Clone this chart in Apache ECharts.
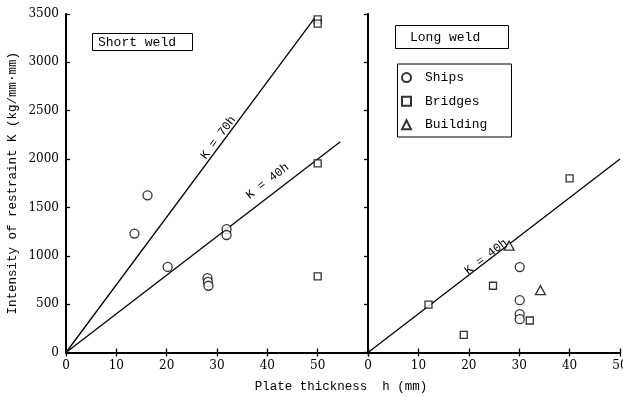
<!DOCTYPE html>
<html>
<head>
<meta charset="utf-8">
<script src="https://cdn.jsdelivr.net/npm/echarts@6/dist/echarts.min.js"></script>
<style>
  html, body { margin: 0; padding: 0; background: #fff; }
  #chart { width: 623px; height: 397px; }
</style>
</head>
<body>
<div id="chart"></div>
<script>
// Restraint intensity K against plate thickness h, short and long welds.
const xTicksShort = [0, 10, 20, 30, 40, 50];
const xTicksLong = [0, 10, 20, 30, 40, 50];
const yTicks = [0, 500, 1000, 1500, 2000, 2500, 3000, 3500];

// Short weld (left panel)
const shortShips = [[13.6, 1230], [16.2, 1625], [20.2, 885], [28.1, 770], [28.2, 730], [28.3, 690], [31.9, 1275], [31.9, 1215]];
const shortBridges = [[50, 3445], [50, 3400], [50, 1955], [50, 787]];

// Long weld (right panel)
const longShips = [[30.1, 883], [30.1, 541], [30.1, 396], [30.1, 345]];
const longBridges = [[12, 495], [19, 182], [24.8, 690], [32.1, 331], [40, 1801]];
const longBuilding = [[28, 1104], [34.2, 645]];

// Reference lines K = c·h : slope and end thickness
const shortLineSlopes = [70, 40];
const shortLineEnds = [49.5, 54.5];
const longLineSlopes = [40];
const longLineEnds = [50];

const MONO = '"Liberation Mono", "DejaVu Sans Mono", monospace';
const SERIF = '"DejaVu Serif", "Liberation Serif", serif';

const chart = echarts.init(document.getElementById('chart'), null, { renderer: 'canvas' });

const markerStyle = { color: '#fff', borderColor: '#000', borderWidth: 1.3 };

function lineData(slope, end) { return [[0, 0], [end, slope * end]]; }

function bottomAxis(grid, max, ticks) {
  return {
    type: 'value', gridIndex: grid, position: 'bottom', min: 0, max: max, interval: 10,
    axisLine: { show: true, lineStyle: { color: '#000', width: 2 } },
    axisTick: { show: true, inside: true, length: 4, lineStyle: { color: '#000', width: 1.3 } },
    axisLabel: {
      show: true, margin: 7, color: '#000', fontFamily: SERIF, fontSize: 12,
      hideOverlap: false,
      formatter: v => ticks.indexOf(v) >= 0 ? String(v) : ''
    },
    splitLine: { show: false }
  };
}
function topAxis(grid, max) {
  return {
    type: 'value', gridIndex: grid, position: 'top', min: 0, max: max, interval: 10,
    axisLine: { show: true, lineStyle: { color: '#000', width: 1.5 } },
    axisTick: { show: true, inside: true, length: 4, lineStyle: { color: '#000', width: 1.3 } },
    axisLabel: { show: false }, splitLine: { show: false }
  };
}
function sideAxis(grid, pos, ticks, labels, width) {
  return {
    type: 'value', gridIndex: grid, position: pos, min: 0, max: 3500, interval: 500,
    axisLine: { show: true, lineStyle: { color: '#000', width: width } },
    axisTick: { show: ticks, inside: true, length: 4, lineStyle: { color: '#000', width: 1.3 } },
    axisLabel: {
      show: labels, margin: 7, color: '#000', fontFamily: SERIF, fontSize: 12,
      formatter: v => yTicks.indexOf(v) >= 0 ? String(v) : ''
    },
    splitLine: { show: false }
  };
}

const yLeft = sideAxis(0, 'left', true, true, 1.6);
yLeft.name = 'Intensity of restraint K (kg/mm\u00b7mm)';
yLeft.nameLocation = 'middle';
yLeft.nameGap = 47;
yLeft.nameRotate = 90;
yLeft.nameTextStyle = { fontFamily: MONO, fontSize: 12.5, color: '#000' };

const lineStyle = { color: '#000', width: 1.3 };
const series = [];
shortLineSlopes.forEach((s, i) => series.push({
  type: 'line', xAxisIndex: 0, yAxisIndex: 0, data: lineData(s, shortLineEnds[i]),
  showSymbol: false, silent: true, lineStyle: lineStyle, z: 1
}));
longLineSlopes.forEach((s, i) => series.push({
  type: 'line', xAxisIndex: 2, yAxisIndex: 2, data: lineData(s, longLineEnds[i]),
  showSymbol: false, silent: true, lineStyle: lineStyle, z: 1
}));
series.push(
  { name: 'Ships', type: 'scatter', xAxisIndex: 0, yAxisIndex: 0, data: shortShips, symbol: 'circle', symbolSize: 9, itemStyle: markerStyle, z: 3 },
  { name: 'Bridges', type: 'scatter', xAxisIndex: 0, yAxisIndex: 0, data: shortBridges, symbol: 'rect', symbolSize: 7, itemStyle: markerStyle, z: 3 },
  { name: 'Ships', type: 'scatter', xAxisIndex: 2, yAxisIndex: 2, data: longShips, symbol: 'circle', symbolSize: 9, itemStyle: markerStyle, z: 3 },
  { name: 'Bridges', type: 'scatter', xAxisIndex: 2, yAxisIndex: 2, data: longBridges, symbol: 'rect', symbolSize: 7, itemStyle: markerStyle, z: 3 },
  { name: 'Building', type: 'scatter', xAxisIndex: 2, yAxisIndex: 2, data: longBuilding, symbol: 'triangle', symbolSize: [10, 9], itemStyle: markerStyle, z: 3 }
);

chart.setOption({
  animation: false,
  backgroundColor: '#fff',
  grid: [
    { left: 66, top: 14, width: 302, height: 338.5, show: false, containLabel: false, outerBoundsMode: 'none' },
    { left: 368, top: 14, width: 252, height: 338.5, show: false, containLabel: false, outerBoundsMode: 'none' }
  ],
  xAxis: [
    bottomAxis(0, 60, xTicksShort), topAxis(0, 60),
    bottomAxis(1, 50, xTicksLong), topAxis(1, 50)
  ],
  yAxis: [
    yLeft, sideAxis(0, 'right', false, false, 2),
    sideAxis(1, 'left', false, false, 2), sideAxis(1, 'right', true, false, 1.6)
  ],
  title: [
    {
      text: 'Short weld', left: 92, top: 33, padding: [3, 17, 2, 6],
      borderColor: '#000', borderWidth: 1, backgroundColor: '#fff',
      textStyle: { fontFamily: MONO, fontSize: 13, fontWeight: 'normal', color: '#000', lineHeight: 13 }
    },
    {
      text: 'Long weld', left: 395, top: 25, padding: [6, 29, 5, 15],
      borderColor: '#000', borderWidth: 1, backgroundColor: '#fff',
      textStyle: { fontFamily: MONO, fontSize: 13, fontWeight: 'normal', color: '#000', lineHeight: 13 }
    }
  ],
  legend: {
    orient: 'vertical', left: 401, top: 71.1, itemWidth: 9, itemHeight: 9, itemGap: 10.6,
    padding: 0, selectedMode: false,
    data: ['Ships', 'Bridges', 'Building'],
    textStyle: { fontFamily: MONO, fontSize: 13, color: '#000', padding: [0, 0, 0, 9] }
  },
  series: series
});

// Position the "K = c·h" captions along their lines using the axis scales.
const captions = [
  { axes: { xAxisIndex: 0, yAxisIndex: 0 }, slope: 70, at: 31.2, lift: 6, text: 'K = 70h' },
  { axes: { xAxisIndex: 0, yAxisIndex: 0 }, slope: 40, at: 41.6, lift: 13, text: 'K = 40h' },
  { axes: { xAxisIndex: 2, yAxisIndex: 2 }, slope: 40, at: 23.9, lift: 4, text: 'K = 40h' }
];
const extra = captions.map(c => {
  const p0 = chart.convertToPixel(c.axes, [0, 0]);
  const p1 = chart.convertToPixel(c.axes, [10, 10 * c.slope]);
  const pa = chart.convertToPixel(c.axes, [c.at, c.at * c.slope]);
  const ang = Math.atan2(p0[1] - p1[1], p1[0] - p0[0]);
  const cx = pa[0] - Math.sin(ang) * c.lift;
  const cy = pa[1] - Math.cos(ang) * c.lift;
  return {
    type: 'text', x: cx, y: cy, rotation: ang, silent: true, z: 5,
    style: { text: c.text, font: '12px ' + MONO, fill: '#000', align: 'center', verticalAlign: 'middle' }
  };
});
chart.setOption({
  graphic: [
    // frame around the legend entries
    { type: 'rect', left: 395, top: 61.5, shape: { width: 114, height: 73 }, style: { fill: 'none', stroke: '#000', lineWidth: 1 }, z: 10, silent: true },
    // shared x-axis title under both panels
    { type: 'text', x: 341, y: 387, silent: true, style: { text: 'Plate thickness  h (mm)', font: '12.5px ' + MONO, fill: '#000', align: 'center', verticalAlign: 'middle' } }
  ].concat(extra)
});
</script>
</body>
</html>
